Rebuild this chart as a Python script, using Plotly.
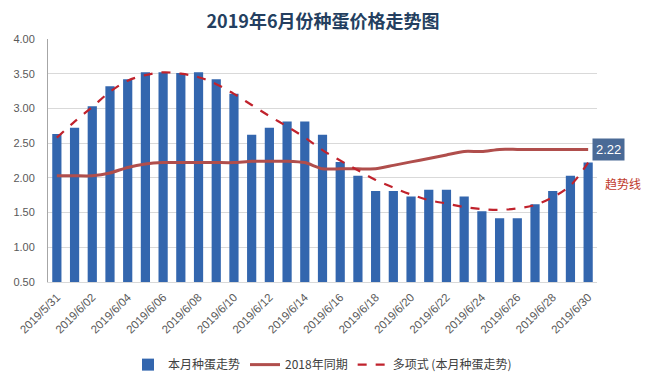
import plotly.graph_objects as go

categories = ["2019/5/31"] + [f"2019/6/{d:02d}" for d in range(1, 31)]

# 本月种蛋走势 (bars)
current_month = [2.63, 2.72, 3.03, 3.32, 3.42, 3.52, 3.52, 3.51, 3.52, 3.42,
                 3.21, 2.62, 2.72, 2.81, 2.81, 2.62, 2.23, 2.03, 1.81, 1.81,
                 1.73, 1.83, 1.83, 1.73, 1.52, 1.42, 1.42, 1.62, 1.81, 2.03,
                 2.22]

# 2018年同期
last_year = [2.03, 2.03, 2.03, 2.07, 2.15, 2.20, 2.22, 2.22, 2.22, 2.22,
             2.22, 2.24, 2.24, 2.24, 2.22, 2.13, 2.13, 2.13, 2.13, 2.18,
             2.23, 2.28, 2.33, 2.38, 2.38, 2.41, 2.41, 2.41, 2.41, 2.41,
             2.41]

# 多项式 (本月种蛋走势) - read from the dashed trendline
trend = [2.58, 2.81, 3.02, 3.24, 3.40, 3.48, 3.52, 3.50, 3.45, 3.35,
         3.21, 3.05, 2.89, 2.74, 2.58, 2.40, 2.25, 2.11, 1.97, 1.86,
         1.76, 1.68, 1.63, 1.58, 1.55, 1.54, 1.56, 1.61, 1.72, 1.89,
         2.22]

y_ticks = [0.5, 1.0, 1.5, 2.0, 2.5, 3.0, 3.5, 4.0]
x_ticks = categories[::2]

fig = go.Figure()
fig.add_trace(go.Bar(
    x=categories, y=current_month, name="本月种蛋走势",
    marker=dict(color="#3366AE", line=dict(width=0)),
))
fig.add_trace(go.Scatter(
    x=categories, y=last_year, name="2018年同期", mode="lines",
    line=dict(color="#B04E4C", width=3, shape="spline", smoothing=0.6),
))
fig.add_trace(go.Scatter(
    x=categories, y=trend, name="多项式 (本月种蛋走势)", mode="lines",
    line=dict(color="#C0222C", width=2.2, dash="dash", shape="spline"),
))

fig.add_annotation(
    x=categories[-1], y=2.41, xref="x", yref="y", text="2.22",
    showarrow=False, xshift=20, bgcolor="#4A6A96",
    font=dict(color="white", size=13, family="Liberation Sans"),
    borderpad=3,
)
fig.add_annotation(
    x=categories[-1], y=1.92, xref="x", yref="y", text="趋势线",
    showarrow=False, xshift=35,
    font=dict(color="#C0392B", size=12, family="Noto Sans CJK SC"),
)

fig.update_layout(
    width=646, height=391,
    margin=dict(l=48, r=49, t=39, b=104),
    paper_bgcolor="white", plot_bgcolor="white",
    title=dict(text="<b>2019年6月份种蛋价格走势图</b>", x=0.5, xanchor="center",
               yref="container", y=0.945, yanchor="middle",
               font=dict(size=18, color="#243F60", family="Noto Sans CJK SC")),
    bargap=0.48,
    showlegend=True,
    legend=dict(orientation="h", x=0.5, xanchor="center", y=-0.34, yanchor="middle",
                font=dict(size=12, color="#404040", family="Noto Sans CJK SC"),
                itemwidth=30, tracegroupgap=0),
    xaxis=dict(type="category", tickmode="array", tickvals=x_ticks, ticktext=x_ticks,
               tickangle=-45, showgrid=False, showline=True, linecolor="#D9D9D9",
               ticks="", automargin=False, ticklabelstandoff=3,
               tickfont=dict(size=11.5, color="#595959", family="Liberation Sans"),
               range=[-0.5, 30.5]),
    yaxis=dict(range=[0.5, 4.0], tickvals=y_ticks, tickformat=".2f",
               showgrid=True, gridcolor="#D9D9D9", gridwidth=1, automargin=False,
               showline=True, linecolor="#A6A6A6", zeroline=False, ticks="",
               ticklabelstandoff=10,
               tickfont=dict(size=11, color="#595959", family="Liberation Sans")),
)

fig.write_html("out.html", config={"displayModeBar": False},
               post_script="document.body.style.margin='0';document.body.style.padding='0';")
